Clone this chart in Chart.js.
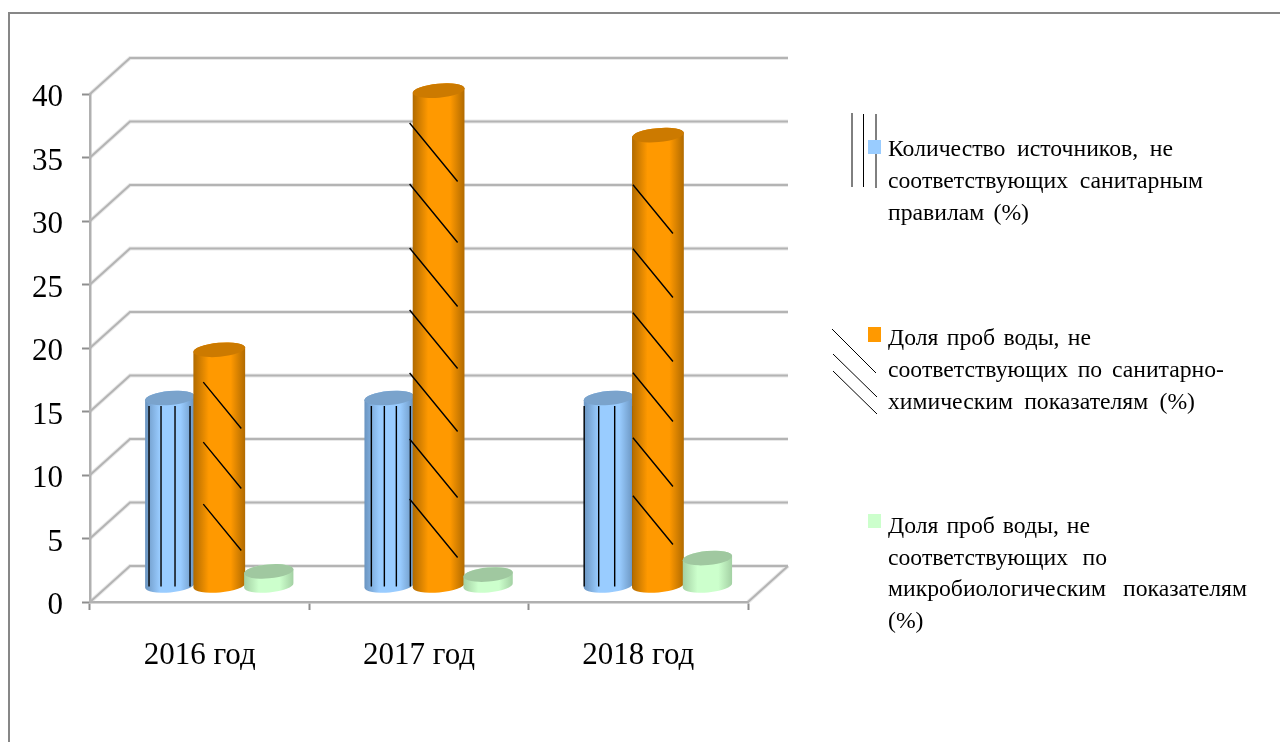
<!DOCTYPE html>
<html lang="ru">
<head>
<meta charset="utf-8">
<title>Качество питьевой воды</title>
<script src="https://cdn.jsdelivr.net/npm/chart.js@4"></script>
<style>
  html, body { margin: 0; padding: 0; background: #fff; overflow: hidden; }
  canvas { display: block; }
</style>
</head>
<body>
<canvas id="chart" width="1280" height="742"></canvas>
<script>
// Chart data
const years = ['2016 год', '2017 год', '2018 год'];
const sourcesShare = [14.8, 14.8, 14.8];
const chemicalShare = [18.6, 39.0, 35.5];
const microbialShare = [1.15, 0.9, 2.2];
const yTicks = [0, 5, 10, 15, 20, 25, 30, 35, 40];

// Legend text, wrapped as it appears beside the chart
const sourcesLines = ['Количество источников, не', 'соответствующих санитарным', 'правилам (%)'];
const chemicalLines = ['Доля проб воды, не', 'соответствующих по санитарно-', 'химическим показателям (%)'];
const microbialLines = ['Доля проб воды, не', 'соответствующих по', 'микробиологическим показателям', '(%)'];

// Justified width of each legend line
const sourcesWidths = [285, 315, 141];
const chemicalWidths = [203, 336, 307];
const microbialWidths = [202, 219, 359, 35];

// Colours per series: face, shaded edge, cap
const blue = ['#99ccff', '#6a94c0', '#7aa3cc'];
const orange = ['#ff9900', '#b06a00', '#cc7a00'];
const green = ['#ccffcc', '#a3d0a3', '#a0c8a0'];

// Hatching over the cylinders, relative to each bar
const verticalHatch = [[4, 16, 30, 45], [7, 20, 32, 46], [0.5, 15, 31, 49]];
const diagonalHatch = [
  { from: 10, to: 48, ends: [35, 97, 157] },
  { from: -3, to: 45, ends: [28, 88, 154, 217, 279, 343, 404] },
  { from: 1, to: 41, ends: [41, 99, 164, 224, 288, 352] }
];

const serif = '"Liberation Serif", "Times New Roman", serif';
const DEPTH_X = 40, DEPTH_Y = -36;      // wall depth of the pseudo-3D box
const BAR_X = 19.6, BAR_Y = -16;        // bars stand halfway into the box
const CAP_RY = 7, CAP_TILT = -0.09;

function paintCylinder(ctx, bar, colors) {
  const { x, y, base, width } = bar.getProps(['x', 'y', 'base', 'width'], true);
  const rx = width / 2;
  const cx = x + BAR_X, top = y + BAR_Y, bottom = base + BAR_Y;
  const grad = ctx.createLinearGradient(cx - rx, 0, cx + rx, 0);
  grad.addColorStop(0, colors[1]);
  grad.addColorStop(0.3, colors[0]);
  grad.addColorStop(0.72, colors[0]);
  grad.addColorStop(1, colors[1]);
  ctx.beginPath();
  ctx.ellipse(cx, bottom, rx, CAP_RY, CAP_TILT, 0, Math.PI);
  ctx.ellipse(cx, top, rx, CAP_RY, CAP_TILT, Math.PI, Math.PI * 2);
  ctx.closePath();
  ctx.fillStyle = grad;
  ctx.fill();
  ctx.beginPath();
  ctx.ellipse(cx, top, rx, CAP_RY, CAP_TILT, 0, Math.PI * 2);
  ctx.fillStyle = colors[2];
  ctx.fill();
}

function paintHatch(ctx, datasetIndex, bar, i) {
  const { x, y, base, width } = bar.getProps(['x', 'y', 'base', 'width'], true);
  const left = x + BAR_X - width / 2, bottom = base + BAR_Y, top = y + BAR_Y;
  ctx.strokeStyle = '#000';
  ctx.lineWidth = 1.4;
  ctx.beginPath();
  if (datasetIndex === 0) {
    verticalHatch[i].forEach(dx => {
      ctx.moveTo(left + dx, top + 8);
      ctx.lineTo(left + dx, bottom + 1);
    });
  } else if (datasetIndex === 1) {
    const h = diagonalHatch[i];
    const rise = (h.to - h.from) * 1.22;
    h.ends.forEach(end => {
      ctx.moveTo(left + h.from, bottom - end - rise);
      ctx.lineTo(left + h.to, bottom - end);
    });
  }
  ctx.stroke();
}

const seriesColors = [blue, orange, green];

const boxPlugin = {
  id: 'box',
  beforeDraw(chart) {
    const { ctx, width, height } = chart;
    ctx.save();
    ctx.fillStyle = '#fff';
    ctx.fillRect(0, 0, width, height);
    ctx.strokeStyle = '#878787';
    ctx.lineWidth = 2;
    ctx.strokeRect(9, 13, width + 50, height + 50);
    ctx.restore();
  },
  beforeDatasetsDraw(chart) {
    const { ctx, chartArea: a, scales } = chart;
    const layer = (color, w) => {
      ctx.strokeStyle = color;
      ctx.lineWidth = w;
      ctx.beginPath();
      yTicks.forEach(t => {
        const py = scales.y.getPixelForValue(t);
        ctx.moveTo(a.left, py);
        ctx.lineTo(a.left + DEPTH_X, py + DEPTH_Y);
        ctx.lineTo(a.right + DEPTH_X, py + DEPTH_Y);
      });
      const py0 = scales.y.getPixelForValue(0);
      ctx.moveTo(a.right + DEPTH_X, py0 + DEPTH_Y);
      ctx.lineTo(a.right, py0);
      ctx.stroke();
    };
    ctx.save();
    layer('rgba(190,190,190,0.35)', 4);
    layer('#b4b4b4', 2);
    ctx.restore();
  },
  // The flat rectangles give way to cylinders painted from the same elements
  beforeDatasetDraw() {
    return false;
  },
  afterDatasetsDraw(chart) {
    const { ctx } = chart;
    ctx.save();
    chart.data.datasets.forEach((ds, index) => {
      chart.getDatasetMeta(index).data.forEach((bar, i) => {
        paintCylinder(ctx, bar, seriesColors[index]);
        paintHatch(ctx, index, bar, i);
      });
    });
    ctx.restore();
  },
  afterDraw(chart) {
    const { ctx } = chart;
    ctx.save();
    // Hatch samples next to the legend
    ctx.strokeStyle = '#000';
    ctx.lineWidth = 1;
    ctx.beginPath();
    [[852, 113, 852, 187], [863.5, 114, 863.5, 187], [876, 114, 876, 188],
     [832, 329, 876, 373], [833, 354, 877, 397], [833, 371, 877, 414]].forEach(s => {
      ctx.moveTo(s[0], s[1]);
      ctx.lineTo(s[2], s[3]);
    });
    ctx.stroke();
    // Legend blocks
    const blocks = [
      { lines: sourcesLines, widths: sourcesWidths, color: blue[0], box: 140, boxH: 14, base: 156, gap: 32 },
      { lines: chemicalLines, widths: chemicalWidths, color: orange[0], box: 327, boxH: 15, base: 345, gap: 32 },
      { lines: microbialLines, widths: microbialWidths, color: green[0], box: 514, boxH: 14, base: 533, gap: 31.5 }
    ];
    ctx.font = '23.7px ' + serif;
    ctx.textBaseline = 'alphabetic';
    blocks.forEach(b => {
      ctx.fillStyle = b.color;
      ctx.fillRect(868, b.box, 13, b.boxH);
      ctx.fillStyle = '#000';
      b.lines.forEach((line, i) => {
        const gaps = line.split(' ').length - 1;
        ctx.wordSpacing = '0px';
        const spare = b.widths[i] - ctx.measureText(line).width;
        ctx.wordSpacing = (gaps ? spare / gaps : 0) + 'px';
        ctx.fillText(line, 888, b.base + i * b.gap);
      });
    });
    ctx.restore();
  }
};

new Chart(document.getElementById('chart'), {
  type: 'bar',
  data: {
    labels: years,
    datasets: [
      { label: 'Количество источников, не соответствующих санитарным правилам (%)', data: sourcesShare, backgroundColor: blue[0] },
      { label: 'Доля проб воды, не соответствующих по санитарно-химическим показателям (%)', data: chemicalShare, backgroundColor: orange[0], barPercentage: 1.05 },
      { label: 'Доля проб воды, не соответствующих по микробиологическим показателям (%)', data: microbialShare, backgroundColor: green[0] }
    ]
  },
  options: {
    responsive: false,
    animation: false,
    events: [],
    layout: { padding: { left: 0, top: 94, right: 532, bottom: 0 } },
    datasets: { bar: { categoryPercentage: 0.677, barPercentage: 1 } },
    plugins: { legend: { display: false }, title: { display: false }, tooltip: { enabled: false } },
    scales: {
      x: {
        afterFit(s) { s.height = 140; },
        grid: { offset: true, drawOnChartArea: false, tickLength: 8, tickColor: '#8f8f8f', tickWidth: 2 },
        border: { color: '#b0b0b0', width: 2.5 },
        ticks: { color: '#000', padding: 27, maxRotation: 0, font: { family: serif, size: 31 } }
      },
      y: {
        min: 0,
        max: 40,
        afterFit(s) { s.width = 90; },
        afterBuildTicks(s) { s.ticks = yTicks.map(v => ({ value: v })); },
        grid: { drawOnChartArea: false, tickLength: 8, tickColor: '#8f8f8f', tickWidth: 2 },
        border: { color: '#b0b0b0', width: 2.5 },
        ticks: { color: '#000', padding: 19, labelOffset: 4, font: { family: serif, size: 31 } }
      }
    }
  },
  plugins: [boxPlugin]
});
</script>
</body>
</html>
